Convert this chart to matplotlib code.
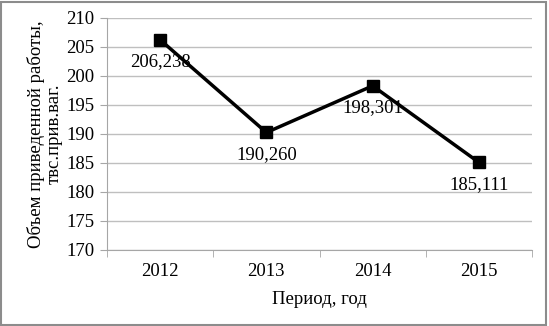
# line chart: volume of work by year
import matplotlib as mpl
import matplotlib.pyplot as plt
from matplotlib.patches import Rectangle

years = ["2012", "2013", "2014", "2015"]
volume = [206.238, 190.260, 198.301, 185.111]
labels = ["206,238", "190,260", "198,301", "185,111"]

mpl.use("Agg")
plt.rcParams["font.family"] = ["Liberation Serif", "DejaVu Serif"]

fig = plt.figure(figsize=(5.49, 3.26), dpi=100)
ax = fig.add_axes([107 / 549, 1 - 250 / 326, 425 / 549, 232 / 326])

x = range(len(years))
ax.plot(x, volume, color="black", linewidth=2.5, marker="s", markersize=9)
for i in x:
    ax.annotate(labels[i], (i, volume[i]), xytext=(0, -16), textcoords="offset points",
                ha="center", va="center", fontsize=13.5)

ax.set_xlim(-0.5, len(years) - 0.5)
ax.set_ylim(170, 210)
ax.set_yticks(range(170, 211, 5))
ax.set_xticks(x)
ax.set_xticklabels(years)
ax.set_xticks([i - 0.5 for i in range(len(years) + 1)], minor=True)
ax.tick_params(axis="x", which="major", length=0, labelsize=13.5, pad=9)
ax.tick_params(axis="x", which="minor", length=5, color="#a6a6a6")
ax.tick_params(axis="y", length=5, color="#a6a6a6", labelsize=13.5, pad=4)
ax.grid(axis="y", color="#bfbfbf", linewidth=1)
ax.set_axisbelow(True)
for s in ["top", "right"]:
    ax.spines[s].set_visible(False)
ax.spines["left"].set_color("#a6a6a6")
ax.spines["bottom"].set_color("#a6a6a6")

ax.set_xlabel("Период, год", fontsize=13.5, labelpad=8)
ax.set_ylabel("Объем приведенной работы,\nтвс.прив.ваг.", fontsize=13.5, labelpad=3,
              linespacing=1.0)

fig.patches.append(Rectangle((0.002, 0.004), 0.993, 0.99, transform=fig.transFigure,
                             fill=False, edgecolor="#8c8c8c", linewidth=1.5))

fig.savefig("out.png", dpi=100)
